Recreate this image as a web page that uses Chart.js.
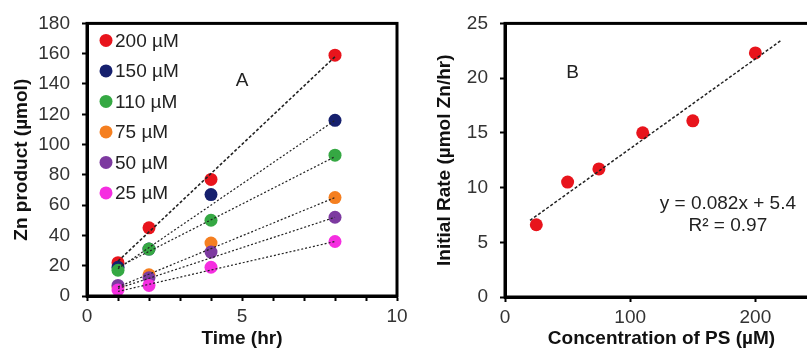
<!DOCTYPE html>
<html>
<head>
<meta charset="utf-8">
<script src="https://cdn.jsdelivr.net/npm/chart.js@4"></script>
<style>
  html, body { margin: 0; padding: 0; background: #fff; overflow: hidden; }
  body { width: 807px; height: 353px; position: relative; }
  #chartA { position: absolute; left: 0; top: 0; }
  #chartB { position: absolute; left: 405px; top: 0; }
</style>
</head>
<body>
<canvas id="chartA" width="420" height="353"></canvas>
<canvas id="chartB" width="425" height="353"></canvas>
<script>
// Panel A: Zn product vs time
const times = [1, 2, 4, 8];
const concLabels = ['200 µM', '150 µM', '110 µM', '75 µM', '50 µM', '25 µM'];
const zn200 = [22, 45, 77, 159];
const zn150 = [19, 31, 67, 116];
const zn110 = [17, 31, 50, 93];
const zn75 = [6, 14, 35, 65];
const zn50 = [7, 12, 29, 52];
const zn25 = [4, 7, 19, 36];
// trendline ends at t = 1 and t = 8
const trendTimes = [1, 8];
const trendStart = [23, 18, 19, 6, 5, 3];
const trendEnd = [158, 116, 92, 65, 52, 36];

// Panel B: initial rate vs concentration
const concPS = [25, 50, 75, 110, 150, 200];
const initRate = [6.6, 10.5, 11.7, 15.0, 16.1, 22.3];
const fitConc = [20, 220];
const fitRate = [7.0, 23.4];

const seriesColors = ['#e8141c', '#16206e', '#35a843', '#f57f20', '#7d3aa0', '#f52ee0'];
const tickFont = { family: '"Liberation Sans", Arial, sans-serif', size: 19 };
const titleFont = { family: '"Liberation Sans", Arial, sans-serif', size: 19, weight: 'bold' };
Chart.defaults.font.family = '"Liberation Sans", Arial, sans-serif';
Chart.defaults.color = '#333';

const frameBox = {
  id: 'frameBox',
  afterDraw(chart) {
    const a = chart.chartArea, ctx = chart.ctx;
    ctx.save();
    ctx.strokeStyle = '#000';
    ctx.lineWidth = 3;
    ctx.strokeRect(a.left, a.top, a.right - a.left, a.bottom - a.top);
    ctx.restore();
  }
};

const innerLegend = {
  id: 'innerLegend',
  afterDraw(chart, args, opts) {
    if (!opts.show) return;
    const a = chart.chartArea, ctx = chart.ctx;
    ctx.save();
    ctx.font = '19px "Liberation Sans", Arial, sans-serif';
    ctx.textBaseline = 'middle';
    chart.data.datasets.filter(d => d.isSeries).forEach((d, i) => {
      const y = a.top + opts.top + i * opts.spacing;
      const x = a.left + opts.left;
      ctx.beginPath();
      ctx.arc(x, y, 6.5, 0, Math.PI * 2);
      ctx.fillStyle = d.backgroundColor;
      ctx.fill();
      ctx.fillStyle = '#222';
      ctx.fillText(d.label, x + 9, y + 1);
    });
    ctx.restore();
  }
};

const noteText = {
  id: 'noteText',
  afterDraw(chart, args, opts) {
    if (!opts.items) return;
    const ctx = chart.ctx;
    ctx.save();
    ctx.font = '19px "Liberation Sans", Arial, sans-serif';
    ctx.textAlign = 'center';
    ctx.textBaseline = 'middle';
    ctx.fillStyle = '#222';
    opts.items.forEach(it => {
      ctx.fillText(it.text, chart.scales.x.getPixelForValue(it.x), chart.scales.y.getPixelForValue(it.y));
    });
    ctx.restore();
  }
};

function axisGrid() {
  return { drawOnChartArea: false, drawTicks: true, tickLength: 5, tickWidth: 2, tickColor: '#000' };
}

// Chart A
const seriesA = [zn200, zn150, zn110, zn75, zn50, zn25];
const dsA = [];
seriesA.forEach((vals, i) => {
  dsA.push({
    label: concLabels[i],
    isSeries: true,
    data: times.map((t, j) => ({ x: t, y: vals[j] })),
    backgroundColor: seriesColors[i],
    borderColor: seriesColors[i],
    pointRadius: 6.5,
    pointBorderWidth: 0,
    order: 10 - i
  });
  dsA.push({
    label: 'trend ' + concLabels[i],
    data: [{ x: trendTimes[0], y: trendStart[i] }, { x: trendTimes[1], y: trendEnd[i] }],
    showLine: true,
    borderColor: '#222',
    borderWidth: i === 0 ? 1.6 : 1.2,
    borderDash: i === 0 ? [3, 2] : [2, 2],
    pointRadius: 0,
    order: -1
  });
});

new Chart(document.getElementById('chartA'), {
  type: 'scatter',
  data: { datasets: dsA },
  options: {
    responsive: false,
    animation: false,
    layout: { padding: { top: 22, right: 23, left: 0, bottom: 0 } },
    plugins: {
      legend: { display: false },
      tooltip: { enabled: false },
      innerLegend: { show: true, left: 19, top: 17, spacing: 30.5 },
      noteText: { items: [{ text: 'A', x: 5, y: 142 }] }
    },
    scales: {
      x: {
        type: 'linear', min: 0, max: 10,
        afterFit: s => { s.height = 57; },
        ticks: { stepSize: 1, autoSkip: false, padding: 4, font: tickFont, color: '#333',
          callback: v => (v % 5 === 0 ? v : '') },
        grid: axisGrid(),
        border: { display: true, width: 3, color: '#000' },
        title: { display: true, text: 'Time (hr)', font: titleFont, color: '#111', padding: { top: 0, bottom: 3 } }
      },
      y: {
        min: 0, max: 180,
        afterFit: s => { s.width = 87; },
        ticks: { stepSize: 20, padding: 12, font: tickFont, color: '#333' },
        grid: axisGrid(),
        border: { display: true, width: 3, color: '#000' },
        title: { display: true, text: 'Zn product (µmol)', font: titleFont, color: '#111', padding: { top: 10, bottom: 0 } }
      }
    }
  },
  plugins: [frameBox, innerLegend, noteText]
});

// Chart B
new Chart(document.getElementById('chartB'), {
  type: 'scatter',
  data: {
    datasets: [
      {
        label: 'Initial rate',
        data: concPS.map((c, j) => ({ x: c, y: initRate[j] })),
        backgroundColor: seriesColors[0],
        pointRadius: 6.5,
        pointBorderWidth: 0,
        order: 1
      },
      {
        label: 'Linear fit',
        data: fitConc.map((c, j) => ({ x: c, y: fitRate[j] })),
        showLine: true,
        borderColor: '#222',
        borderWidth: 1.5,
        borderDash: [3, 2],
        pointRadius: 0,
        order: 0
      }
    ]
  },
  options: {
    responsive: false,
    animation: false,
    layout: { padding: { top: 22, right: 12, left: 0, bottom: 0 } },
    plugins: {
      legend: { display: false },
      tooltip: { enabled: false },
      noteText: { items: [
        { text: 'B', x: 54, y: 20.5 },
        { text: 'y = 0.082x + 5.4', x: 178, y: 8.5 },
        { text: 'R² = 0.97', x: 178, y: 6.5 }
      ] }
    },
    scales: {
      x: {
        type: 'linear', min: 0, max: 250,
        afterFit: s => { s.height = 56; },
        afterBuildTicks: s => { s.ticks = s.ticks.filter(t => t.value % 100 === 0); },
        ticks: { stepSize: 100, padding: 4, font: tickFont, color: '#333' },
        grid: axisGrid(),
        border: { display: true, width: 3, color: '#000' },
        title: { display: true, text: 'Concentration of PS (µM)', font: titleFont, color: '#111', padding: { top: 0, bottom: 3 } }
      },
      y: {
        min: 0, max: 25,
        afterFit: s => { s.width = 100; },
        ticks: { stepSize: 5, padding: 12, font: tickFont, color: '#333' },
        grid: axisGrid(),
        border: { display: true, width: 3, color: '#000' },
        title: { display: true, text: 'Initial Rate (µmol Zn/hr)', font: titleFont, color: '#111', padding: { top: 28, bottom: 0 } }
      }
    }
  },
  plugins: [frameBox, noteText]
});
</script>
</body>
</html>
